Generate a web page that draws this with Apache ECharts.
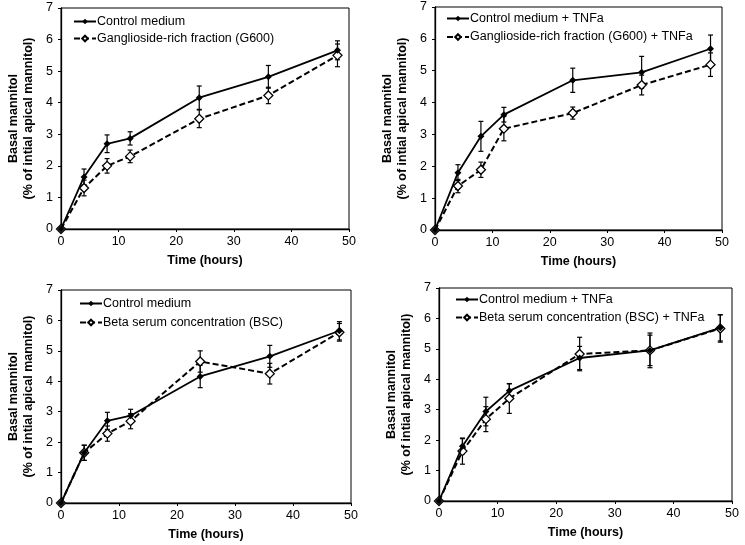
<!DOCTYPE html>
<html>
<head>
<meta charset="utf-8">
<script src="https://cdn.jsdelivr.net/npm/echarts@6/dist/echarts.min.js"></script>
<style>
html,body{margin:0;padding:0;background:#fff;}
#chart{width:745px;height:545px;}
</style>
</head>
<body>
<div id="chart"></div>
<script>
const time = [0, 4, 8, 12, 24, 36, 48];
const xTicks = [0, 10, 20, 30, 40, 50];
const yTicks = [0, 1, 2, 3, 4, 5, 6, 7];

const ctrl      = [0, 1.65, 2.70, 2.87, 4.16, 4.82, 5.66];
const ctrlErr   = [0, 0.25, 0.28, 0.21, 0.37, 0.36, 0.30];
const g600      = [0, 1.30, 2.00, 2.30, 3.49, 4.23, 5.50];
const g600Err   = [0, 0.25, 0.23, 0.20, 0.28, 0.26, 0.36];
const ctrlTnf   = [0, 1.80, 2.94, 3.62, 4.70, 4.95, 5.69];
const ctrlTnfErr= [0, 0.25, 0.47, 0.23, 0.38, 0.50, 0.43];
const g600Tnf   = [0, 1.38, 1.89, 3.18, 3.67, 4.55, 5.19];
const g600TnfErr= [0, 0.21, 0.24, 0.38, 0.19, 0.31, 0.37];
const bsc       = [0, 1.65, 2.28, 2.69, 4.65, 4.25, 5.61];
const bscErr    = [0, 0.25, 0.25, 0.25, 0.35, 0.34, 0.29];
const bscTnf    = [0, 1.64, 2.69, 3.37, 4.83, 4.95, 5.67];
const bscTnfErr = [0, 0.43, 0.41, 0.49, 0.55, 0.57, 0.45];

const nCtrl = 'Control medium';
const nG600 = 'Ganglioside-rich fraction (G600)';
const nCtrlTnf = 'Control medium + TNFa';
const nG600Tnf = 'Ganglioside-rich fraction (G600) + TNFa';
const nBsc = 'Beta serum concentration (BSC)';
const nBscTnf = 'Beta serum concentration (BSC) + TNFa';

const xName = 'Time (hours)';
const yName = 'Basal mannitol\n(% of intial apical mannitol)';

const FONT = 'Liberation Sans, Arial, sans-serif';

const panels = [
  {grid:{left:61, top:8, width:288, height:221}, legend:{left:73, top:14, gap:2},
   a:{name:nCtrl, v:ctrl, e:ctrlErr}, b:{name:nG600, v:g600, e:g600Err}},
  {grid:{left:435, top:7, width:287, height:223}, legend:{left:446, top:11, gap:3.5},
   a:{name:nCtrlTnf, v:ctrlTnf, e:ctrlTnfErr}, b:{name:nG600Tnf, v:g600Tnf, e:g600TnfErr}},
  {grid:{left:61, top:290, width:290, height:213}, legend:{left:79, top:296, gap:4},
   a:{name:nCtrl, v:ctrl, e:ctrlErr}, b:{name:nBsc, v:bsc, e:bscErr}},
  {grid:{left:439, top:288, width:293, height:213}, legend:{left:455, top:292, gap:3},
   a:{name:nCtrlTnf, v:ctrlTnf, e:ctrlTnfErr}, b:{name:nBscTnf, v:bscTnf, e:bscTnfErr}}
];

function errData(v, e) {
  const out = [];
  time.forEach((t, i) => { if (e[i] > 0) out.push([t, v[i], e[i]]); });
  return out;
}

function errRender(params, api) {
  const x = api.value(0), y = api.value(1), e = api.value(2);
  const top = api.coord([x, y + e]);
  const bot = api.coord([x, y - e]);
  const w = 2.5;
  const st = {stroke:'#000', lineWidth:1.2};
  return {type:'group', children:[
    {type:'line', shape:{x1:top[0], y1:top[1], x2:bot[0], y2:bot[1]}, style:st},
    {type:'line', shape:{x1:top[0]-w, y1:top[1], x2:top[0]+w, y2:top[1]}, style:st},
    {type:'line', shape:{x1:bot[0]-w, y1:bot[1], x2:bot[0]+w, y2:bot[1]}, style:st}
  ]};
}

const grids = [], xAxes = [], yAxes = [], legends = [], series = [];
panels.forEach((p, k) => {
  grids.push(Object.assign({show:true, borderColor:'#000', borderWidth:1, backgroundColor:'transparent'}, p.grid));
  xAxes.push({
    gridIndex:k, type:'value', min:xTicks[0], max:xTicks[xTicks.length-1], interval:10,
    name:xName, nameLocation:'middle', nameGap:25,
    nameTextStyle:{fontFamily:FONT, fontSize:12.5, fontWeight:'bold', color:'#000'},
    axisLine:{show:true, onZero:false, lineStyle:{color:'#000', width:1.3}},
    axisTick:{show:true, length:3, lineStyle:{color:'#000'}},
    axisLabel:{fontFamily:FONT, fontSize:12.5, color:'#000', margin:6},
    splitLine:{show:false}
  });
  yAxes.push({
    gridIndex:k, type:'value', min:yTicks[0], max:yTicks[yTicks.length-1], interval:1,
    name:yName, nameLocation:'middle', nameGap:25,
    nameTextStyle:{fontFamily:FONT, fontSize:12.5, fontWeight:'bold', color:'#000', lineHeight:15},
    axisLine:{show:true, onZero:false, lineStyle:{color:'#000', width:1.3}},
    axisTick:{show:true, length:3, lineStyle:{color:'#000'}},
    axisLabel:{fontFamily:FONT, fontSize:12.5, color:'#000', margin:8},
    splitLine:{show:false}
  });
  legends.push({
    orient:'vertical', left:p.legend.left, top:p.legend.top, itemGap:p.legend.gap,
    itemWidth:22, itemHeight:7, padding:0, selectedMode:false,
    data:[p.a.name, p.b.name],
    textStyle:{fontFamily:FONT, fontSize:12.5, color:'#000', padding:[0,0,0,-4], lineHeight:15}
  });
  series.push({
    type:'custom', xAxisIndex:k, yAxisIndex:k, renderItem:errRender,
    data:errData(p.b.v, p.b.e), silent:true, z:1
  });
  series.push({
    type:'custom', xAxisIndex:k, yAxisIndex:k, renderItem:errRender,
    data:errData(p.a.v, p.a.e), silent:true, z:1
  });
  series.push({
    name:p.b.name, type:'line', xAxisIndex:k, yAxisIndex:k,
    data:time.map((t, i) => [t, p.b.v[i]]),
    symbol:'diamond', symbolSize:9, showAllSymbol:true,
    lineStyle:{color:'#000', width:2, type:[6,3]},
    itemStyle:{color:'#fff', borderColor:'#000', borderWidth:1.3},
    z:3, animation:false
  });
  series.push({
    name:p.a.name, type:'line', xAxisIndex:k, yAxisIndex:k,
    data:time.map((t, i) => [t, p.a.v[i]]),
    symbol:'diamond', symbolSize:7, showAllSymbol:true,
    lineStyle:{color:'#000', width:1.8},
    itemStyle:{color:'#000', borderColor:'#000', borderWidth:0},
    z:4, animation:false
  });
});

const chart = echarts.init(document.getElementById('chart'), null, {renderer:'canvas'});
chart.setOption({
  backgroundColor:'#fff',
  animation:false,
  textStyle:{fontFamily:FONT},
  grid:grids, xAxis:xAxes, yAxis:yAxes, legend:legends, series:series
});
</script>
</body>
</html>
